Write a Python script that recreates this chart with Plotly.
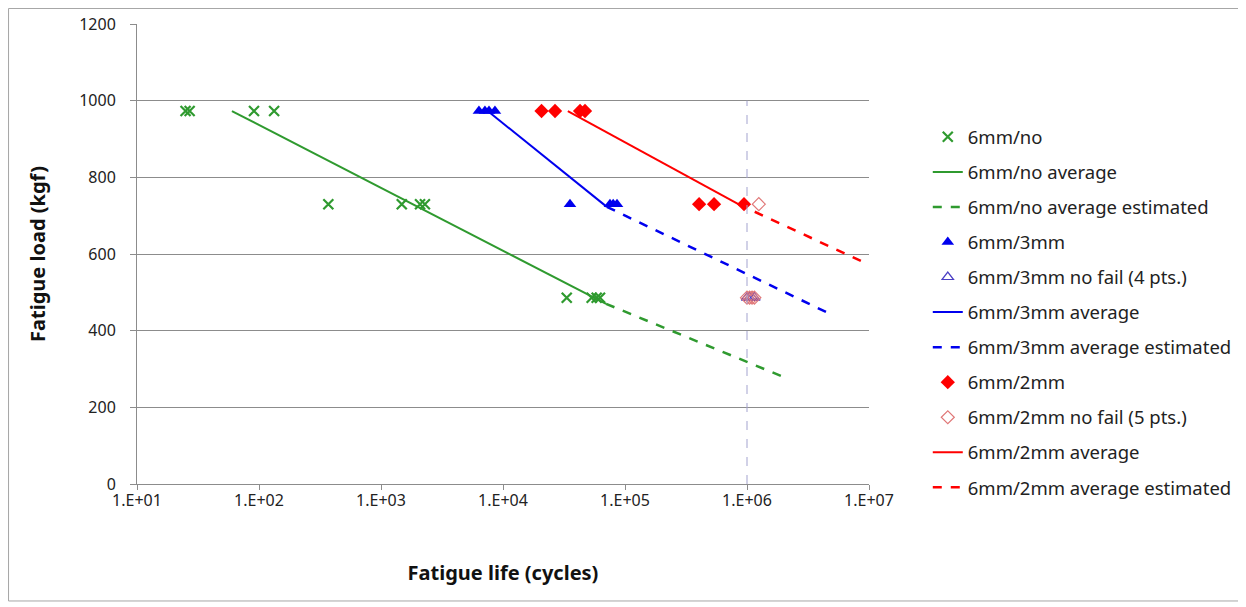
import plotly.graph_objects as go

# ---------------- data ----------------
x_tick_vals = [1e1, 1e2, 1e3, 1e4, 1e5, 1e6, 1e7]
x_tick_text = ["1.E+01", "1.E+02", "1.E+03", "1.E+04", "1.E+05", "1.E+06", "1.E+07"]
y_tick_vals = [0, 200, 400, 600, 800, 1000, 1200]
y_grid_vals = [200, 400, 600, 800, 1000]

no_life = [25, 27, 91, 133, 370, 1480, 2090, 2290, 33300, 53300, 58600, 62400]
no_load = [973, 973, 973, 973, 730, 730, 730, 730, 486, 486, 486, 486]
no_avg_life = [60, 70000]
no_avg_load = [973, 470]
no_est_life = [70000, 2.0e6]
no_est_load = [470, 279]

mm3_life = [6350, 7110, 7680, 8590, 35400, 75300, 80000, 86000]
mm3_load = [973, 973, 973, 973, 730, 730, 730, 730]
mm3_nf_life = [1.0e6, 1.05e6, 1.1e6, 1.15e6]
mm3_nf_load = [486, 486, 486, 486]
mm3_avg_life = [7500, 71000]
mm3_avg_load = [973, 723]
mm3_est_life = [71000, 5.0e6]
mm3_est_load = [723, 441]

mm2_life = [20700, 26700, 42800, 47000, 405000, 537000, 945000]
mm2_load = [973, 973, 973, 973, 730, 730, 730]
mm2_nf_life = [1.25e6, 1.0e6, 1.05e6, 1.1e6, 1.15e6]
mm2_nf_load = [730, 486, 486, 486, 486]
mm2_avg_life = [34000, 850000]
mm2_avg_load = [973, 730]
mm2_est_life = [850000, 1.0e7]
mm2_est_load = [730, 572]

ref_life = [1e6, 1e6]
ref_load = [0, 1000]

# ---------------- style ----------------
GREEN = "#2f9a2f"
BLUE = "#0000ee"
RED = "#ff0000"
TRI_OPEN = "#4b3fc4"
DIA_OPEN = "#e07878"
GRID = "#8c8c8c"
FONT = "Noto Sans"

fig = go.Figure()

def add(tr, grp):
    tr.legendgroup = grp
    fig.add_trace(tr)

add(go.Scatter(x=no_life, y=no_load, mode="markers", name="6mm/no",
               marker=dict(symbol="x-thin", size=10, line=dict(color=GREEN, width=2.2), color=GREEN)), "g01")
add(go.Scatter(x=no_avg_life, y=no_avg_load, mode="lines", name="6mm/no average",
               line=dict(color=GREEN, width=2)), "g02")
add(go.Scatter(x=no_est_life, y=no_est_load, mode="lines", name="6mm/no average estimated",
               line=dict(color=GREEN, width=2.5, dash="dash")), "g03")
add(go.Scatter(x=mm3_life, y=mm3_load, mode="markers", name="6mm/3mm",
               marker=dict(symbol="triangle-up", size=11, color=BLUE)), "g04")
add(go.Scatter(x=mm3_nf_life, y=mm3_nf_load, mode="markers", name="6mm/3mm no fail (4 pts.)",
               marker=dict(symbol="triangle-up-open", size=10, color=TRI_OPEN, line=dict(width=1.2))), "g05")
add(go.Scatter(x=mm3_avg_life, y=mm3_avg_load, mode="lines", name="6mm/3mm average",
               line=dict(color=BLUE, width=2)), "g06")
add(go.Scatter(x=mm3_est_life, y=mm3_est_load, mode="lines", name="6mm/3mm average estimated",
               line=dict(color=BLUE, width=2.5, dash="dash")), "g07")
add(go.Scatter(x=mm2_life, y=mm2_load, mode="markers", name="6mm/2mm",
               marker=dict(symbol="diamond", size=11, color=RED)), "g08")
add(go.Scatter(x=mm2_nf_life, y=mm2_nf_load, mode="markers", name="6mm/2mm no fail (5 pts.)",
               marker=dict(symbol="diamond-open", size=10, color=DIA_OPEN, line=dict(width=1.2))), "g09")
add(go.Scatter(x=mm2_avg_life, y=mm2_avg_load, mode="lines", name="6mm/2mm average",
               line=dict(color=RED, width=2)), "g10")
add(go.Scatter(x=mm2_est_life, y=mm2_est_load, mode="lines", name="6mm/2mm average estimated",
               line=dict(color=RED, width=2.5, dash="dash")), "g11")

fig.add_trace(go.Scatter(x=ref_life, y=ref_load, mode="lines", showlegend=False, yaxis="y2",
                         line=dict(color="#a3a3cf", width=1, dash="dash"), hoverinfo="skip"))

fig.update_layout(
    width=1246, height=607,
    margin=dict(l=129, r=385, t=16, b=131),
    paper_bgcolor="white", plot_bgcolor="white",
    font=dict(family=FONT, size=16, color="#222222"),
    showlegend=True,
    legend=dict(x=1.0803, xanchor="left", y=0.795, yanchor="top",
                font=dict(family=FONT, size=18.5, color="#222222"),
                tracegroupgap=8, traceorder="grouped",
                bgcolor="rgba(0,0,0,0)"),
    xaxis=dict(type="log", range=[1, 7], tickvals=x_tick_vals, ticktext=x_tick_text,
               showgrid=False, zeroline=False, showline=True, linecolor=GRID, linewidth=1,
               ticks="outside", ticklen=5, tickcolor=GRID, automargin=False,
               ticklabelstandoff=-3,
               tickfont=dict(family=FONT, size=16, color="#222222"),
               title=dict(text="<b>Fatigue life (cycles)</b>", standoff=55,
                          font=dict(family=FONT, size=20, color="#111111"))),
    yaxis=dict(range=[0, 1200], tickvals=y_tick_vals, showgrid=False, zeroline=False,
               showline=True, linecolor=GRID, linewidth=1, automargin=False,
               ticks="outside", ticklen=6, tickcolor=GRID, ticklabelstandoff=11,
               tickfont=dict(family=FONT, size=16, color="#222222"),
               title=dict(text="<b>Fatigue load (kgf)</b>", standoff=28,
                          font=dict(family=FONT, size=20, color="#111111"))),
    yaxis2=dict(range=[0, 1200], overlaying="y", tickvals=y_grid_vals, showgrid=True,
                gridcolor=GRID, gridwidth=1, showticklabels=False, ticks="",
                showline=False, zeroline=False),
    shapes=[dict(type="rect", xref="paper", yref="paper",
                 x0=-0.1755, x1=1.5068, y0=-0.2543, y1=1.0337,
                 line=dict(color="#a6a6a6", width=1), fillcolor="rgba(0,0,0,0)", layer="below")],
)

fig.write_html("out.html")
